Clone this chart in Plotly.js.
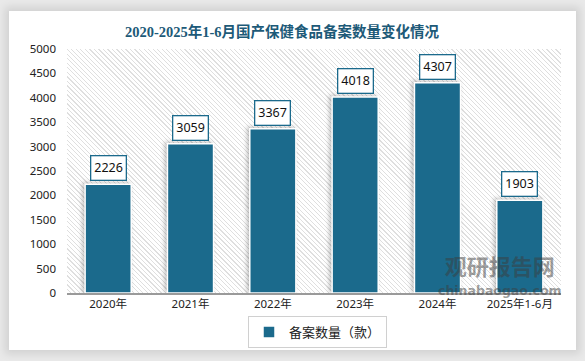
<!DOCTYPE html>
<html>
<head>
<meta charset="utf-8">
<script src="https://cdn.plot.ly/plotly-3.0.1.min.js"></script>
<style>
  html, body { margin:0; padding:0; background:#ececec; }
  #wrap { position:relative; width:585px; height:361px; overflow:hidden; background:#e9e9e9; }
  #card { position:absolute; left:9px; top:11px; width:567px; height:339px; background:#fff;
          box-shadow: 0 0 8px 4px rgba(0,0,0,0.10); }
  #hatch { position:absolute; left:67px; top:49px; width:494px; height:244px;
           background: repeating-linear-gradient(45deg, #ffffff 0px, #ffffff 2.3px, #dfdfdf 2.3px, #dfdfdf 3.2px); }
  #chart { position:absolute; left:0; top:0; width:585px; height:361px; }
  #chart .trace.bars .point path { filter: drop-shadow(-2px -1px 2px rgba(0,0,0,0.25)); }
</style>
</head>
<body>
<div id="wrap">
  <div id="card"></div>
  <div id="hatch"></div>
  <div id="chart"></div>
</div>
<script>
const categories = ["2020年", "2021年", "2022年", "2023年", "2024年", "2025年1-6月"];
const values = [2226, 3059, 3367, 4018, 4307, 1903];
const seriesName = "备案数量（款）";
const titleText = "2020-2025年1-6月国产保健食品备案数量变化情况";
const yTicks = [0, 500, 1000, 1500, 2000, 2500, 3000, 3500, 4000, 4500, 5000];

const barColor = "#1b6a8c";
const baseFont = "'Noto Sans', 'Noto Sans CJK SC', sans-serif";

// paper area: x 56..561 ; plot (bars) area: x 67..561
const paperL = 56, paperR = 561, plotL = 67;
const pw = paperR - paperL;
const px = v => (v - paperL) / pw;

const annotations = categories.map((c, i) => ({
  x: c, y: values[i], xref: "x", yref: "y",
  text: String(values[i]), showarrow: false,
  yanchor: "bottom", yshift: 3,
  font: {family: baseFont, size: 12.5, color: "#111"},
  bgcolor: "#fff", bordercolor: barColor, borderwidth: 1.3, borderpad: 3
}));

annotations.push({
  xref: "paper", yref: "paper", x: px(500), y: (293 - 273) / 244,
  xanchor: "center", yanchor: "middle", align: "center",
  text: "<span style=\"font-size:22px\"><b>观研报告网</b></span><br><span style=\"font-size:12.5px;font-family:'DejaVu Sans'\"><b>chinabaogao.com</b></span>",
  showarrow: false,
  font: {family: "'Noto Sans CJK SC', sans-serif", size: 15, color: "rgba(60,60,60,0.5)"}
});

const data = [{
  type: "bar",
  x: categories,
  y: values,
  name: seriesName,
  marker: {color: barColor, line: {color: "#ffffff", width: 1.5}},
  hoverinfo: "x+y"
}];

const layout = {
  width: 585, height: 361,
  margin: {l: paperL, r: 585 - paperR, t: 49, b: 68},
  paper_bgcolor: "rgba(0,0,0,0)",
  plot_bgcolor: "rgba(0,0,0,0)",
  bargap: 0.44,
  title: {
    text: "<b>" + titleText + "</b>",
    x: 282 / 585, xanchor: "center", y: 1 - 32 / 361, yanchor: "middle",
    font: {family: "'Liberation Serif', 'Noto Sans CJK SC', serif", size: 14.5, color: "#1d5a78"}
  },
  xaxis: {
    type: "category",
    domain: [px(plotL), 1],
    showline: true, linecolor: "#9a9a9a", linewidth: 1.5,
    ticks: "", showgrid: false,
    tickfont: {family: baseFont, size: 11.5, color: "#222"},
    fixedrange: true
  },
  yaxis: {
    anchor: "free", position: 0,
    range: [0, 5000], tickvals: yTicks, ticktext: yTicks.map(String),
    showgrid: false, zeroline: false, showline: false, ticks: "",
    tickfont: {family: baseFont, size: 11.5, color: "#222"},
    fixedrange: true
  },
  showlegend: true,
  legend: {
    orientation: "h", x: px(317.5), xanchor: "center", y: -(332 - 293) / 244, yanchor: "middle",
    bordercolor: "#d0d0d0", borderwidth: 1, bgcolor: "#fff",
    font: {family: baseFont, size: 13, color: "#222"},
    itemwidth: 30
  },
  annotations: annotations
};

Plotly.newPlot("chart", data, layout, {displayModeBar: false, staticPlot: true});
</script>
</body>
</html>
